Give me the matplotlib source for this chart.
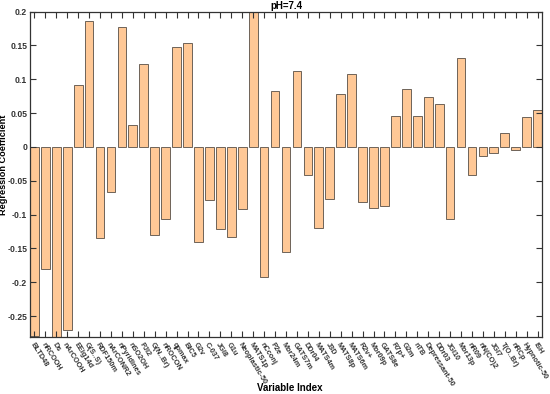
import numpy as np
import matplotlib
matplotlib.use("Agg")
import matplotlib.pyplot as plt
from matplotlib.ticker import FuncFormatter

plt.rcParams['font.family'] = ['Liberation Sans', 'DejaVu Sans']

# nombres de las variables
variables = ["BLTD48", "nRCOOH", "Ds", "nArCOOH", "EEig14d", "G(S..S)", "RDF150m",
             "nArCONR2", "nPyridines", "nSO2OH", "PJI2", "G(N..Br)", "nROCON", "qpmax",
             "BIC5", "G2v", "C-037", "JGI8", "G1u", "Neoplastic-50", "MATS1p", "nCconj",
             "P2e", "Mor24m", "GATS7m", "DDr04", "MATS4m", "J3D", "MATS8p", "MATS6m",
             "R2v+", "Mor09p", "GATS8e", "R7p+", "G2m", "nTB", "Depressant-50", "DDr03",
             "JGI10", "Mor13p", "nR09", "nN(CO)2", "JGI7", "T(O..Br)", "nRCp",
             "Hypnotic-50", "ISH"]

# coeficientes de regresion
coef = [-0.279, -0.180, -0.290, -0.270, 0.091, 0.186, -0.135,
        -0.066, 0.177, 0.032, 0.122, -0.131, -0.106, 0.148,
        0.153, -0.140, -0.079, -0.121, -0.133, -0.092, 0.205, -0.193,
        0.083, -0.155, 0.112, -0.042, -0.120, -0.077, 0.078, 0.108,
        -0.082, -0.090, -0.088, 0.045, 0.086, 0.046, 0.074, 0.064,
        -0.107, 0.132, -0.041, -0.013, -0.009, 0.020, -0.005,
        0.044, 0.054]

yticks = [-0.25, -0.2, -0.15, -0.1, -0.05, 0, 0.05, 0.1, 0.15, 0.2]

fig = plt.figure(figsize=(5.5, 3.94), dpi=100)
ax = fig.add_axes([30 / 550, 1 - 337 / 394, 512 / 550, 325.5 / 394])

x = np.arange(1, len(coef) + 1)
ax.bar(x, coef, width=0.8, color='#ffc896', edgecolor='#6e6258', linewidth=0.7)

ax.set_xlim(0.6, len(coef) + 0.4)
ax.set_ylim(-0.281, 0.2)
ax.set_xticks(x)
ax.set_xticklabels(variables, rotation=-58, ha='left', rotation_mode='anchor',
                   fontsize=5.3, fontweight='bold', color='#333333')
ax.set_yticks(yticks)
ax.yaxis.set_major_formatter(FuncFormatter(lambda v, p: f"{v:g}"))
for t in ax.get_yticklabels():
    t.set_fontsize(6.2)
    t.set_fontweight('bold')
    t.set_color('#333333')

ax.tick_params(direction='in', top=True, right=True, length=4, width=0.8, color='#333333', pad=3)
ax.tick_params(axis='y', pad=2)
for s in ax.spines.values():
    s.set_linewidth(0.9)
    s.set_color('#333333')

ax.set_title("pH=7.4", fontsize=7, fontweight='bold', pad=2)
ax.set_xlabel("Variable Index", fontsize=7, fontweight='bold')
ax.set_ylabel("Regression Coefficient", fontsize=6.6, fontweight='bold')
ax.xaxis.set_label_coords(0.508, -0.142)
ax.yaxis.set_label_coords(-0.043, 0.53)

plt.savefig("out.png", dpi=100)
